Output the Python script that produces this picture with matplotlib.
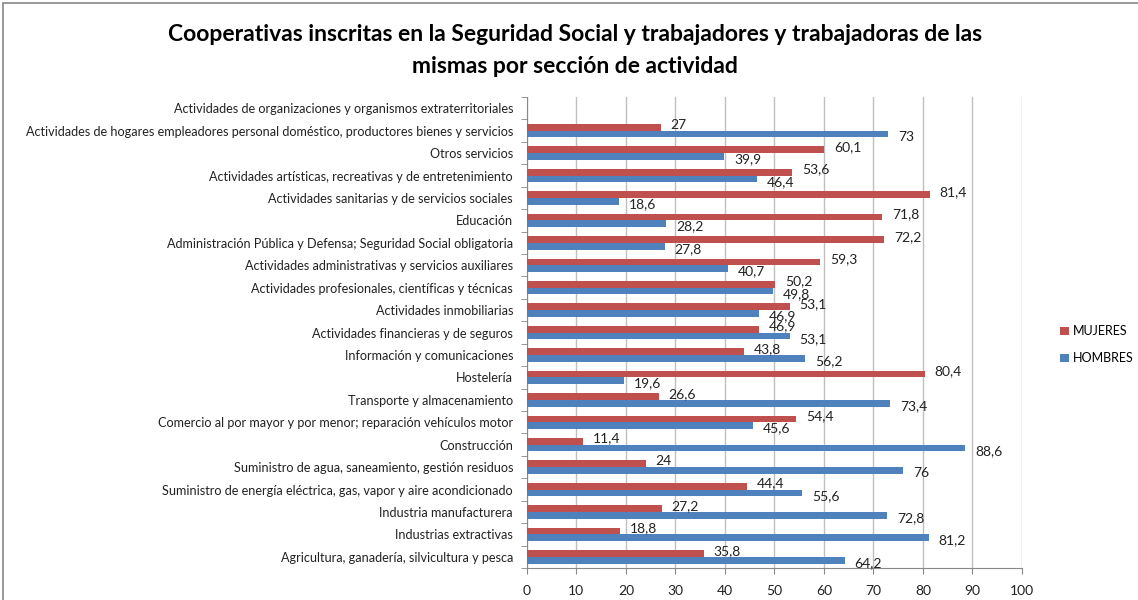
import matplotlib.pyplot as plt
from matplotlib.patches import Rectangle
import numpy as np

plt.rcParams['font.family'] = ['Lato', 'DejaVu Sans']

# categories from bottom to top
categories = [
    "Agricultura, ganadería, silvicultura y pesca",
    "Industrias extractivas",
    "Industria manufacturera",
    "Suministro de energía eléctrica, gas, vapor y aire acondicionado",
    "Suministro de agua, saneamiento, gestión residuos",
    "Construcción",
    "Comercio al por mayor y por menor; reparación vehículos motor",
    "Transporte y almacenamiento",
    "Hostelería",
    "Información y comunicaciones",
    "Actividades financieras y de seguros",
    "Actividades inmobiliarias",
    "Actividades profesionales, científicas y técnicas",
    "Actividades administrativas y servicios auxiliares",
    "Administración Pública y Defensa; Seguridad Social obligatoria",
    "Educación",
    "Actividades sanitarias y de servicios sociales",
    "Actividades artísticas, recreativas y de entretenimiento",
    "Otros servicios",
    "Actividades de hogares empleadores personal doméstico, productores bienes y servicios",
    "Actividades de organizaciones y organismos extraterritoriales",
]
mujeres = [35.8, 18.8, 27.2, 44.4, 24, 11.4, 54.4, 26.6, 80.4, 43.8, 46.9,
           53.1, 50.2, 59.3, 72.2, 71.8, 81.4, 53.6, 60.1, 27, None]
hombres = [64.2, 81.2, 72.8, 55.6, 76, 88.6, 45.6, 73.4, 19.6, 56.2, 53.1,
           46.9, 49.8, 40.7, 27.8, 28.2, 18.6, 46.4, 39.9, 73, None]

red = '#c0504d'
blue = '#4f81bd'

fig = plt.figure(figsize=(11.38, 6), dpi=100)
ax = fig.add_axes([0.463, 0.0533, 0.435, 0.785])

y = np.arange(len(categories))
h = 0.3
m_vals = [v if v is not None else 0 for v in mujeres]
h_vals = [v if v is not None else 0 for v in hombres]
ax.barh(y + h / 2, m_vals, height=h, color=red, label='MUJERES', zorder=3)
ax.barh(y - h / 2, h_vals, height=h, color=blue, label='HOMBRES', zorder=3)


def fmt(v):
    if float(v).is_integer():
        return str(int(v))
    return f"{v:.1f}".replace('.', ',')


for yi, v in zip(y, mujeres):
    if v is not None:
        ax.annotate(fmt(v), (v, yi + h / 2), xytext=(7, 2), textcoords='offset points',
                    va='center', ha='left', fontsize=10, color='#222222')
for yi, v in zip(y, hombres):
    if v is not None:
        ax.annotate(fmt(v), (v, yi - h / 2), xytext=(7, -2), textcoords='offset points',
                    va='center', ha='left', fontsize=10, color='#222222')

ax.set_xlim(0, 100)
ax.set_xticks(range(0, 101, 10))
ax.set_ylim(-0.5, len(categories) - 0.5)
ax.set_yticks(y)
ax.set_yticklabels(categories, fontsize=9.1, color='#222222')
ax.set_yticks(np.arange(-0.5, len(categories)), minor=True)
ax.tick_params(axis='y', which='major', length=0, pad=10)
ax.tick_params(axis='y', which='minor', length=4, color='#888888')
ax.tick_params(axis='x', length=4, color='#888888', labelsize=10, labelcolor='#222222', pad=8)
ax.grid(axis='x', color='#bfbfbf', linewidth=1, zorder=0)
for s in ['top', 'right']:
    ax.spines[s].set_visible(False)
for s in ['left', 'bottom']:
    ax.spines[s].set_color('#888888')

ax.legend(loc='center left', bbox_to_anchor=(1.055, 0.474), frameon=False, fontsize=9,
          handlelength=0.7, handleheight=0.7, handletextpad=0.3, labelspacing=1.2)

fig.suptitle("Cooperativas inscritas en la Seguridad Social y trabajadores y trabajadoras de las\nmismas por sección de actividad",
             x=0.505, y=0.96, fontsize=16.5, fontweight='bold', linespacing=1.65)

fig.patches.append(Rectangle((0.003, -0.01), 1.1, 1.005, transform=fig.transFigure,
                             fill=False, edgecolor='#888888', linewidth=1.2))

fig.savefig('out.png', dpi=100)
